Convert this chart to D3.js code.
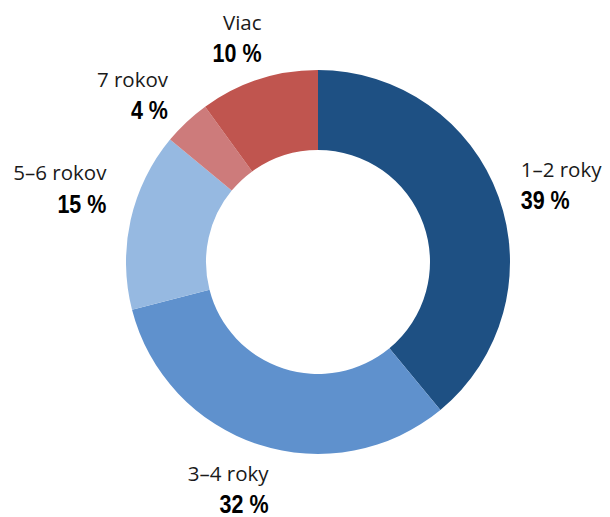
<!DOCTYPE html>
<html>
<head>
<meta charset="utf-8">
<script src="https://cdn.jsdelivr.net/npm/d3@7"></script>
<style>
  body { margin: 0; background: #fff; }
  svg { display: block; }
</style>
</head>
<body>
<div id="chart"></div>
<script>
// Data
const categories = ['1–2 roky', '3–4 roky', '5–6 rokov', '7 rokov', 'Viac']
const values = [39, 32, 15, 4, 10]
const pctLabels = ['39 %', '32 %', '15 %', '4 %', '10 %']
const colors = ['#1e5083', '#5f91cd', '#96b9e1', '#cd7b7b', '#c0554f']

// Layout
const WIDTH = 610
const HEIGHT = 517
const CX = 318
const CY = 262
const OUTER = 192
const INNER = 112
const LABEL_R = 218
const BOX_H = 40
const PCT_SCALE = 0.86
// hand tweaks so labels sit where the original placed them
const labelNudge = [[0, 3], [-10, 0], [0, -22], [-12, 6], [-6, 2]]

const svg = d3.select('#chart')
    .append('svg')
    .attr('width', WIDTH)
    .attr('height', HEIGHT)

const g = svg.append('g')
    .attr('transform', `translate(${CX}, ${CY})`)

const pie = d3.pie().sort(null).value(d => d)
const arcs = pie(values)

const arc = d3.arc().innerRadius(INNER).outerRadius(OUTER)

g.selectAll('path')
    .data(arcs)
    .enter()
    .append('path')
    .attr('d', arc)
    .attr('fill', (d, i) => colors[i])

// Labels: anchor point on mid-angle, box pushed outward
arcs.forEach((d, i) => {
    const a = (d.startAngle + d.endAngle) / 2
    const s = Math.sin(a), c = Math.cos(a)
    const px = LABEL_R * s + labelNudge[i][0]
    const py = -LABEL_R * c + labelNudge[i][1]
    const left = s < 0
    const anchor = left ? 'end' : 'start'

    const name = g.append('text')
        .attr('text-anchor', anchor)
        .attr('font-family', '"Open Sans", "Noto Sans", sans-serif')
        .attr('font-size', 20.5)
        .attr('fill', '#1a1a1a')
        .text(categories[i])
    const pct = g.append('text')
        .attr('text-anchor', anchor)
        .attr('font-family', '"Liberation Sans", Arial, sans-serif')
        .attr('font-weight', 'bold')
        .attr('font-size', 25)
        .attr('fill', '#000')
        .text(pctLabels[i])

    const w = Math.max(name.node().getComputedTextLength(),
        pct.node().getComputedTextLength() * PCT_SCALE)
    const bx = px + (w / 2) * s
    const by = py - (BOX_H / 2) * c
    const tx = left ? bx + w / 2 : bx - w / 2
    name.attr('x', tx).attr('y', by - 15).attr('dy', '0.35em')
    pct.attr('transform', `translate(${tx}, ${by + 16}) scale(${PCT_SCALE}, 1)`)
        .attr('dy', '0.35em')
})
</script>
</body>
</html>
